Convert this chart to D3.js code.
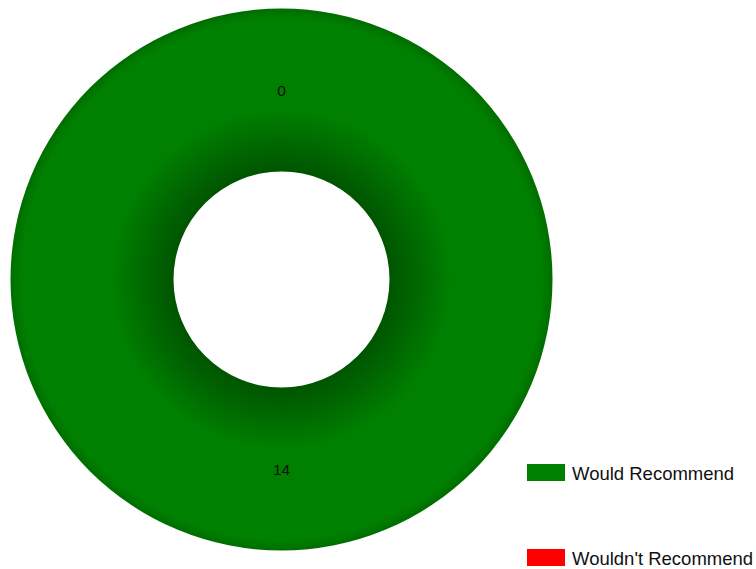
<!DOCTYPE html>
<html>
<head>
<meta charset="utf-8">
<script src="https://cdn.jsdelivr.net/npm/d3@7"></script>
<style>
  html, body { margin: 0; padding: 0; background: #fff; }
  svg { display: block; }
</style>
</head>
<body>
<svg id="chart" width="756" height="569"></svg>
<script>
const categories = ["Would Recommend", "Wouldn't Recommend"];
const values = [14, 0];
const colors = ["#008000", "#ff0000"];

const svg = d3.select("#chart");
const cx = 281.5, cy = 279.5, outerR = 271, innerR = 108;

const data = categories.map((c, i) => ({ cat: c, value: values[i], color: colors[i] }));

const defs = svg.append("defs");
data.forEach((d, i) => {
  const base = d3.color(d.color);
  const g = defs.append("radialGradient")
    .attr("id", "grad" + i)
    .attr("gradientUnits", "userSpaceOnUse")
    .attr("cx", 0).attr("cy", 0).attr("r", outerR);
  g.append("stop").attr("offset", innerR / outerR).attr("stop-color", base.darker(1.15));
  g.append("stop").attr("offset", 0.63).attr("stop-color", base);
  g.append("stop").attr("offset", 0.96).attr("stop-color", base);
  g.append("stop").attr("offset", 1).attr("stop-color", base.darker(0.45));
});

const pie = d3.pie().value(d => d.value).sort(null);
const arc = d3.arc().innerRadius(innerR).outerRadius(outerR);

const g = svg.append("g").attr("transform", `translate(${cx},${cy})`);
const arcs = pie(data);

g.selectAll("path.slice").data(arcs).join("path")
  .attr("class", "slice")
  .attr("d", arc)
  .attr("fill", (d, i) => `url(#grad${i})`);

g.selectAll("text.lbl").data(arcs).join("text")
  .attr("class", "lbl")
  .attr("transform", d => `translate(${arc.centroid(d)})`)
  .attr("text-anchor", "middle")
  .attr("dy", "0.36em")
  .attr("font-family", "Liberation Sans, Arial, sans-serif")
  .attr("font-size", 15.5)
  .attr("fill", "#111")
  .text(d => d.data.value);

const legendY = d3.scaleOrdinal().domain(categories).range([464, 549]);
const leg = svg.append("g").selectAll("g").data(data).join("g")
  .attr("transform", d => `translate(527,${legendY(d.cat)})`);
leg.append("rect").attr("width", 38).attr("height", 17).attr("fill", d => d.color);
leg.append("text")
  .attr("x", 45).attr("y", 15.5)
  .attr("font-family", "Liberation Sans, Arial, sans-serif")
  .attr("font-size", 18.5)
  .attr("fill", "#111")
  .text(d => d.cat);
</script>
</body>
</html>
